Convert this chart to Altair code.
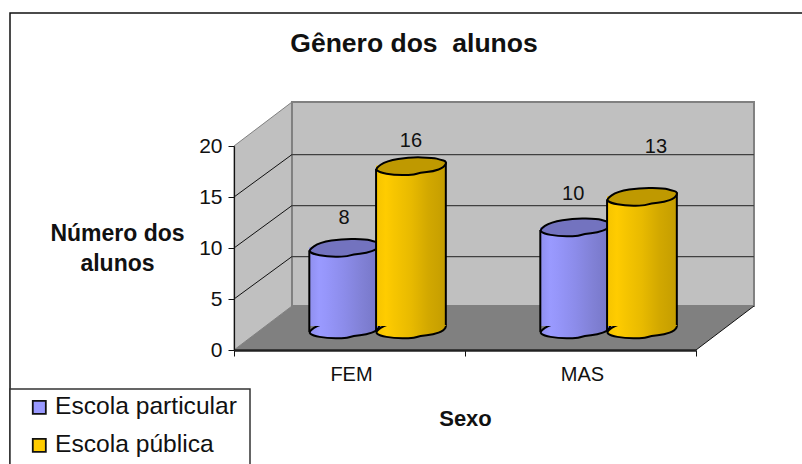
import altair as alt
import pandas as pd

# Chart content
categories = ["FEM", "MAS"]
series_names = ["Escola particular", "Escola pública"]
values_particular = [8, 10]
values_publica = [16, 13]
y_ticks = [0, 5, 10, 15, 20]
x_ticks = [0, 1, 2]

# Layout of the pseudo-3D box, in scale units
DEPTH_X = 0.251
DEPTH_Y = 4.31
GRID_DROP = 0.15
Y_MAX = 20
X_MAX = 2
SLOT_STARTS = [0.326, 0.615]
SLOT_WIDTH = 0.302
BAR_LIFT = -21

FONT = "Liberation Sans"
INK = "#111111"


def smooth_closed_path(points):
    """Closed SVG path through the midpoints of a control polygon."""
    n = len(points)
    mid = lambda a, b: ((a[0] + b[0]) / 2, (a[1] + b[1]) / 2)
    start = mid(points[-1], points[0])
    parts = [f"M{start[0]:.3f},{start[1]:.3f}"]
    for i in range(n):
        p = points[i]
        m = mid(p, points[(i + 1) % n])
        parts.append(f"Q{p[0]:.3f},{p[1]:.3f},{m[0]:.3f},{m[1]:.3f}")
    return "".join(parts) + "Z"


# Hand-drawn looking, slightly tilted cylinder cap
CAP_SHAPE = smooth_closed_path([
    (-1.03, 0.08), (-0.70, -0.14), (-0.03, -0.25), (0.64, -0.23), (0.83, -0.18),
    (1.03, -0.12), (0.94, 0.05), (0.64, 0.16), (0.26, 0.20), (0.02, 0.27),
    (-0.50, 0.26), (-0.90, 0.19),
])
CAP_SIZE = 70 ** 2

rows = []
for si, (name, vals) in enumerate(zip(series_names, [values_particular, values_publica])):
    for ci, (cat, v) in enumerate(zip(categories, vals)):
        left = ci + SLOT_STARTS[si]
        rows.append({
            "category": cat, "series": name, "value": v, "base": 0,
            "left": left, "right": left + SLOT_WIDTH, "center": left + SLOT_WIDTH / 2,
        })
bars = pd.DataFrame(rows)

x_scale = alt.Scale(domain=[0, X_MAX], nice=False, zero=False)
y_scale = alt.Scale(domain=[0, Y_MAX], nice=False, zero=False)

x_axis = alt.Axis(
    values=x_ticks, labels=False, title="Sexo", titleFont=FONT, titleFontSize=22,
    titleFontWeight="bold", titleColor=INK, titleX=231, titleY=68,
    titleBaseline="middle", domainColor="#222222", domainWidth=2.5,
    tickColor=INK, tickSize=6, tickWidth=1, grid=False, zindex=1,
)
y_axis = alt.Axis(
    values=y_ticks, title=["Número dos", "alunos"], titleFont=FONT, titleFontSize=23,
    titleFontWeight="bold", titleColor=INK, titleAngle=0, titleAlign="center",
    titleBaseline="middle", titleLineHeight=30, titleX=-117, titleY=87,
    labelFont=FONT, labelFontSize=21, labelColor=INK, labelPadding=6,
    domainColor=INK, domainWidth=1.2, tickColor=INK, tickSize=6, tickWidth=1,
    grid=False, zindex=1,
)
X = lambda f: alt.X(f, type="quantitative", scale=x_scale, axis=x_axis)
Y = lambda f: alt.Y(f, type="quantitative", scale=y_scale, axis=y_axis)

# Chart frame: its right and bottom edges run past the page
frame = alt.Chart(pd.DataFrame({"a": [0]})).mark_rect(
    fill="white", stroke=INK, strokeWidth=1.5
).encode(x=alt.value(-224), x2=alt.value(620), y=alt.value(-133), y2=alt.value(340))

# Walls and floor
side_wall = alt.Chart(pd.DataFrame({
    "x": [0, DEPTH_X], "y": [0, DEPTH_Y], "y2": [Y_MAX, Y_MAX + DEPTH_Y]
})).mark_area(color="#C0C0C0", stroke="#808080", strokeWidth=1).encode(
    x=X("x"), y=Y("y"), y2="y2"
)
back_wall = alt.Chart(pd.DataFrame({
    "x": [DEPTH_X], "x2": [X_MAX + DEPTH_X], "y": [DEPTH_Y], "y2": [Y_MAX + DEPTH_Y]
})).mark_rect(fill="#C0C0C0", stroke="#808080", strokeWidth=2).encode(
    x=X("x"), x2="x2", y=Y("y"), y2="y2"
)
floor = alt.Chart(pd.DataFrame({
    "y": [0, DEPTH_Y], "x": [0, DEPTH_X], "x2": [X_MAX, X_MAX + DEPTH_X]
})).mark_area(orient="horizontal", color="#808080").encode(
    y=Y("y"), x=X("x"), x2="x2"
)
floor_edge = alt.Chart(pd.DataFrame({
    "x": [X_MAX], "x2": [X_MAX + DEPTH_X], "y": [0], "y2": [DEPTH_Y]
})).mark_rule(color=INK, strokeWidth=1).encode(
    x=X("x"), x2="x2", y=Y("y"), y2="y2"
)

grid = pd.DataFrame({"tick": y_ticks[1:]})
grid["back"] = grid["tick"] + DEPTH_Y - GRID_DROP
grid["x0"] = 0.0
grid["x1"] = DEPTH_X
grid["x2"] = X_MAX + DEPTH_X
side_grid = alt.Chart(grid[grid.tick < Y_MAX]).mark_rule(color=INK, strokeWidth=1).encode(
    x=X("x0"), x2="x1", y=Y("tick"), y2="back"
)
back_grid = alt.Chart(grid[grid.tick < Y_MAX]).mark_rule(color="#404040", strokeWidth=1.2).encode(
    x=X("x1"), x2="x2", y=Y("back")
)


def body_gradient(stops):
    return alt.Gradient(
        gradient="linear", x1=0, x2=1, y1=0, y2=0,
        stops=[alt.GradientStop(offset=o, color=c) for o, c in stops],
    )


palette = {
    series_names[0]: {
        "base": "#9999FF", "cap": "#7373BF",
        "body": [(0, "#8F8FEE"), (0.14, "#9A9AFF"), (0.25, "#9696FA"), (0.5, "#8C8CEA"),
                 (0.75, "#8181D6"), (1, "#7676C6")],
    },
    series_names[1]: {
        "base": "#FFCC00", "cap": "#BF9900",
        "body": [(0, "#F5C400"), (0.14, "#FFCC00"), (0.25, "#F7C600"), (0.5, "#E8BA00"),
                 (0.75, "#D2A800"), (1, "#C49D00")],
    },
}

# Legend colours come from a flat bar underneath the shaded cylinder body
legend_layer = alt.Chart(bars).mark_bar(yOffset=BAR_LIFT, y2Offset=BAR_LIFT - 3).encode(
    x=X("left"), x2="right", y=Y("value"), y2="base",
    color=alt.Color(
        "series:N",
        scale=alt.Scale(domain=series_names, range=[palette[s]["base"] for s in series_names]),
        legend=alt.Legend(
            title=None, orient="none", legendX=-207, legendY=249,
            symbolType="square", symbolSize=170, symbolStrokeColor=INK,
            symbolStrokeWidth=1.8, labelFont=FONT, labelFontSize=24.6, labelColor=INK,
            labelOffset=3.5, rowPadding=13, labelLimit=260, padding=0,
        ),
    ),
)

cylinders = []
for name in series_names:
    subset = alt.Chart(bars[bars.series == name])
    pal = palette[name]
    bottom_cap = subset.mark_point(
        shape=CAP_SHAPE, size=CAP_SIZE, filled=True, fill=body_gradient(pal["body"]), opacity=1,
        stroke="#000000", strokeWidth=2, yOffset=BAR_LIFT,
    ).encode(x=X("center"), y=Y("base"))
    body = subset.mark_bar(
        fill=body_gradient(pal["body"]), yOffset=BAR_LIFT, y2Offset=BAR_LIFT - 3,
    ).encode(x=X("left"), x2="right", y=Y("value"), y2="base")
    left_side = subset.mark_rule(
        color="#000000", strokeWidth=2, yOffset=BAR_LIFT + 3, y2Offset=BAR_LIFT + 3,
    ).encode(x=X("left"), y=Y("value"), y2="base")
    right_side = subset.mark_rule(
        color="#000000", strokeWidth=2, yOffset=BAR_LIFT - 4, y2Offset=BAR_LIFT - 4,
    ).encode(x=X("right"), y=Y("value"), y2="base")
    top_cap = subset.mark_point(
        shape=CAP_SHAPE, size=CAP_SIZE, filled=True, fill=pal["cap"], opacity=1,
        stroke="#000000", strokeWidth=2, yOffset=BAR_LIFT,
    ).encode(x=X("center"), y=Y("value"))
    cylinders += [bottom_cap, body, left_side, right_side, top_cap]

# Value labels, each nudged clear of its cylinder
label_nudges = {
    ("FEM", series_names[0]): (0, -29),
    ("FEM", series_names[1]): (0, -25),
    ("MAS", series_names[0]): (-2, -33),
    ("MAS", series_names[1]): (14, -49),
}
value_labels = []
for (cat, name), (dx, dy) in label_nudges.items():
    value_labels.append(
        alt.Chart(bars[(bars.category == cat) & (bars.series == name)]).mark_text(
            font=FONT, fontSize=20, color=INK, dx=dx, dy=dy + BAR_LIFT, baseline="middle",
        ).encode(x=X("center"), y=Y("value"), text="value:Q")
    )

# Category names under the axis
cat_frame = pd.DataFrame({"category": categories, "pos": [i + 0.5 for i in range(len(categories))]})
category_labels = alt.Chart(cat_frame).mark_text(
    font=FONT, fontSize=20, color=INK, baseline="middle", dx=2
).encode(x=X("pos"), y=alt.value(229), text="category:N")

# Invisible layer that carries the axes on top of the chart frame
axes = alt.Chart(pd.DataFrame({"x": [0], "y": [0]})).mark_point(opacity=0).encode(
    x=X("x"), y=Y("y"),
)

legend_box = alt.Chart(pd.DataFrame({"a": [0]})).mark_rect(
    fill="white", stroke="#333333", strokeWidth=1.5
).encode(x=alt.value(-224), x2=alt.value(16), y=alt.value(243), y2=alt.value(340))

chart = alt.layer(
    frame, side_wall, back_wall, floor, side_grid, back_grid, floor_edge,
    axes, legend_layer, *cylinders, *value_labels, category_labels, legend_box,
).properties(
    width=462, height=204,
    padding={"left": 234, "top": 146, "right": 106, "bottom": 114},
    autosize=alt.AutoSizeParams(type="none"),
    title=alt.TitleParams(
        "Gênero dos\u00a0 alunos", font=FONT, fontSize=26.5, fontWeight="bold", color=INK,
        anchor="middle", dx=-51, dy=62, baseline="middle",
    ),
).configure_view(stroke=None).configure(background="white")

chart.save("out.html", embed_options={"renderer": "svg", "actions": False})
